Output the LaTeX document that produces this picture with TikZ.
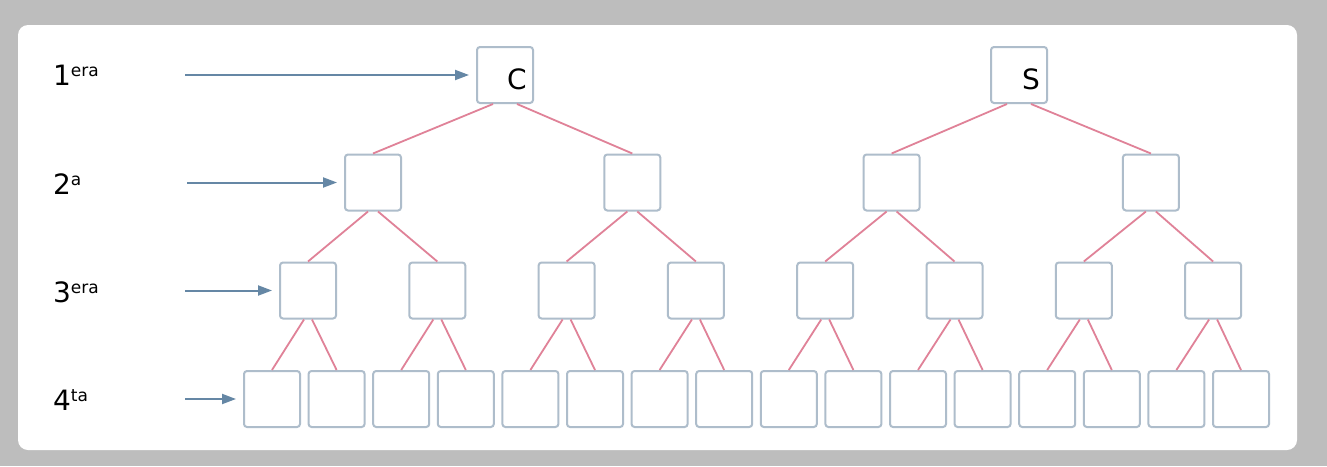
\documentclass[tikz,border=0pt]{standalone}
\usepackage{fontspec}
\setmainfont{DejaVu Sans}
\usetikzlibrary{arrows.meta}

\definecolor{frame}{HTML}{BDBDBD}
\definecolor{cellline}{HTML}{AEBDCB}
\definecolor{linkline}{HTML}{E08298}
\definecolor{pointline}{HTML}{6587A5}

\tikzset{
  cell/.style={draw=cellline, fill=white, line width=1pt, rounded corners=1.5pt,
    minimum size=28pt, inner sep=0pt},
  link/.style={draw=linkline, line width=0.9pt},
  pointer/.style={draw=pointline, line width=1pt, -{Triangle[length=7pt,width=5pt]}, shorten >=3.5pt},
  level/.style={anchor=west, font=\fontsize{14}{16}\selectfont}
}
\newcommand{\up}[1]{\raisebox{0.55ex}{\fontsize{8.5}{10}\selectfont #1}}

\begin{document}
\begin{tikzpicture}[x=0.5pt, y=-0.5pt]
\fill[frame] (0,0) rectangle (1327,466);
\fill[white, rounded corners=5pt] (18,25) rectangle (1297,450);
\useasboundingbox (0,0) rectangle (1327,466);

% generations
\node[cell, label={[xshift=6pt,yshift=-2pt,font=\fontsize{14}{16}\selectfont]center:C}] (a0) at (505,75) {};
\node[cell, label={[xshift=6pt,yshift=-2pt,font=\fontsize{14}{16}\selectfont]center:S}] (a1) at (1019,75) {};
\foreach \i in {0,...,3}
  \node[cell] (b\i) at ({373+259.3*\i},182.5) {};
\foreach \i in {0,...,7}
  \node[cell] (c\i) at ({308+129.3*\i},290.5) {};
\foreach \i in {0,...,15}
  \node[cell] (d\i) at ({272+64.6*\i},399) {};

% links
\foreach \i in {0,1}{
  \pgfmathtruncatemacro\l{2*\i}
  \pgfmathtruncatemacro\r{2*\i+1}
  \draw[link] ([xshift=-6pt]a\i.south) -- (b\l.north);
  \draw[link] ([xshift=6pt]a\i.south) -- (b\r.north);
}
\foreach \i in {0,...,3}{
  \pgfmathtruncatemacro\l{2*\i}
  \pgfmathtruncatemacro\r{2*\i+1}
  \draw[link] ([xshift=-2.5pt]b\i.south) -- (c\l.north);
  \draw[link] ([xshift=2.5pt]b\i.south) -- (c\r.north);
}
\foreach \i in {0,...,7}{
  \pgfmathtruncatemacro\l{2*\i}
  \pgfmathtruncatemacro\r{2*\i+1}
  \draw[link] ([xshift=-2pt]c\i.south) -- (d\l.north);
  \draw[link] ([xshift=2pt]c\i.south) -- (d\r.north);
}

% levels
\node[level] (l1) at (46,75) {1\up{era}};
\node[level] (l2) at (46,184) {2\up{a}};
\node[level] (l3) at (46,292) {3\up{era}};
\node[level] (l4) at (46,400) {4\up{ta}};
\coordinate (p1) at (185,75);
\coordinate (p2) at (187,182.5);
\coordinate (p3) at (185,290.5);
\coordinate (p4) at (185,399);
\draw[pointer] (p1) -- (a0.west);
\draw[pointer] (p2) -- (b0.west);
\draw[pointer] (p3) -- (c0.west);
\draw[pointer] (p4) -- (d0.west);
\end{tikzpicture}
\end{document}
